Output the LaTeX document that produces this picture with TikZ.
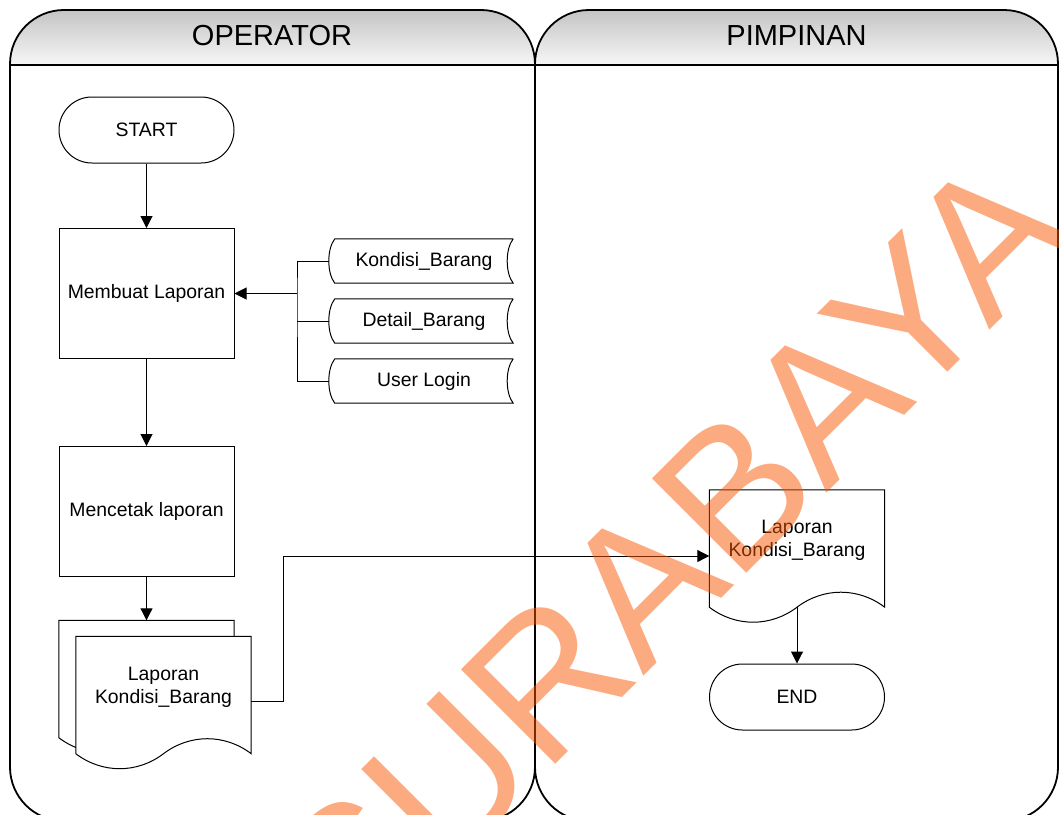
\documentclass[tikz,border=0pt]{standalone}
\usepackage{fontspec}
\setmainfont{Liberation Sans}
\usetikzlibrary{arrows.meta,calc,backgrounds}
\definecolor{wmorange}{RGB}{249,85,1}
\definecolor{hdtop}{RGB}{196,196,196}
\definecolor{hdbot}{RGB}{247,247,247}
\newcommand\docoutline[2]{%
  \coordinate (dnw) at ([shift={#2}]#1.north west);
  \coordinate (dne) at ([shift={#2}]#1.north east);
  \coordinate (dse) at ([shift={#2}]#1.south east);
  \coordinate (dsw) at ([shift={#2}]#1.south west);
  \draw[docline,fill=white] (dnw) -- (dne) -- (dse)
    .. controls ($(dsw)!0.85!(dse)+(0,-20)$) and ($(dsw)!0.65!(dse)+(0,-20)$) .. ($(dsw)!0.5!(dse)$)
    .. controls ($(dsw)!0.35!(dse)+(0,20)$) and ($(dsw)!0.15!(dse)+(0,20)$) .. (dsw) -- cycle;}
\newcommand\storeoutline[1]{%
  \draw[docline] (#1.north east) -- (#1.north west)
    .. controls ([xshift=-8pt,yshift=-10pt]#1.north west) and ([xshift=-8pt,yshift=10pt]#1.south west) .. (#1.south west)
    -- (#1.south east)
    .. controls ([xshift=-8pt,yshift=10pt]#1.south east) and ([xshift=-8pt,yshift=-10pt]#1.north east) .. (#1.north east);}
\begin{document}
\begin{tikzpicture}[x=1pt,y=-1pt,
  lane/.style={draw=black,line width=1.8pt,rounded corners=54pt},
  lanetitle/.style={font=\fontsize{29}{34}\selectfont,inner sep=0pt},
  txt/.style={font=\fontsize{19.4}{23}\selectfont,align=center},
  proc/.style={txt,draw=black,line width=1pt,rectangle,minimum width=175pt,minimum height=130pt,inner sep=0pt},
  term/.style={txt,draw=black,line width=1pt,rectangle,rounded corners=32.9pt,minimum width=175pt,minimum height=66pt,inner sep=0pt},
  store/.style={txt,rectangle,minimum width=178pt,minimum height=44pt,inner sep=0pt},
  doc/.style={txt,rectangle,minimum width=175pt,minimum height=117pt,inner sep=0pt},
  docline/.style={draw=black,line width=1pt},
  link/.style={draw=black,line width=1pt},
  arrow/.style={link,-{Triangle[length=12pt,width=12pt]}}
]
\useasboundingbox (0,0) rectangle (1059,814);
\clip (0,0) rectangle (1059,814);

% lanes
\begin{scope}
  \clip[rounded corners=54pt] (10,10) rectangle (535,821);
  \shade[top color=hdtop,bottom color=hdbot] (10,10) rectangle (535,65);
\end{scope}
\begin{scope}
  \clip[rounded corners=54pt] (535,10) rectangle (1058,821);
  \shade[top color=hdtop,bottom color=hdbot] (535,10) rectangle (1058,65);
\end{scope}
\draw[lane] (10,10) rectangle (535,821);
\draw[lane] (535,10) rectangle (1058,821);
\draw[line width=1.8pt] (10,65) -- (1058,65);
\node[lanetitle] (op) at (272,36) {OPERATOR};
\node[lanetitle] (pm) at (796.5,36) {PIMPINAN};

% nodes
\node[term] (start) at (146.5,130) {START};
\node[proc] (mb) at (146.5,293.5) {Membuat Laporan};
\node[proc] (mc) at (146.5,511.5) {Mencetak laporan};
\node[store] (kb) at (424,261) {Kondisi\_Barang};
\node[store] (db) at (424,321) {Detail\_Barang};
\node[store] (ul) at (424,381) {User Login};
\node[doc] (fd) at (163.5,687) {Laporan\\Kondisi\_Barang};
\node[doc] (rd) at (797,540.5) {Laporan\\Kondisi\_Barang};
\node[term] (end) at (797,697) {END};

\begin{scope}[on background layer]
  \docoutline{fd}{(-17,-8)}
  \docoutline{fd}{(0,8)}
  \docoutline{rd}{(0,8)}
\end{scope}
\storeoutline{kb}
\storeoutline{db}
\storeoutline{ul}

% connectors
\coordinate (bus) at (297,293.5);
\draw[arrow] (start) -- (mb);
\draw[arrow] (mb) -- (mc);
\draw[arrow] (mc.south) -- ([yshift=8pt]mc.south |- fd.north);
\draw[link] ([xshift=-6pt]kb.west) -| (bus) |- ([xshift=-6pt]ul.west);
\draw[link] ([xshift=-6pt]db.west) -- (bus |- db.west);
\draw[arrow] (bus) -- (mb.east);
\draw[arrow] ([yshift=-14pt]fd.east) -- ++(32,0) |- ([yshift=-15.5pt]rd.west);
\draw[arrow] ([yshift=-8pt]rd.south) -- (end.north);

% watermark
\node[rotate=45,anchor=base west,inner sep=0pt,font=\fontsize{194}{194}\selectfont,text=wmorange,text opacity=0.5] (wm) at (354,966) {SURABAYA};
\end{tikzpicture}
\end{document}
